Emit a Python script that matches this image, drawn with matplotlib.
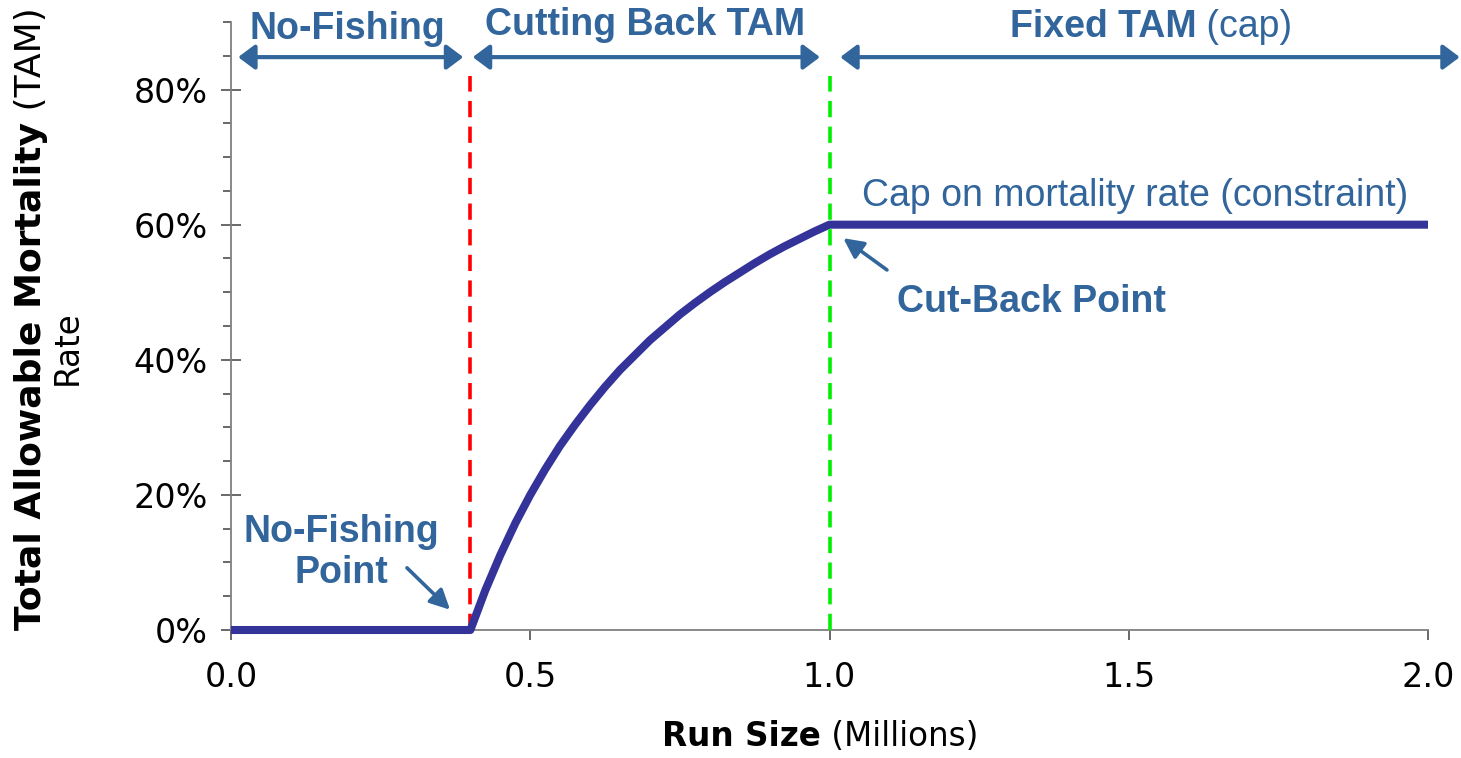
import matplotlib
matplotlib.use('Agg')
import matplotlib.pyplot as plt
from matplotlib.ticker import MultipleLocator, PercentFormatter

# run size (millions) vs total allowable mortality rate
run_size = [0.0, 0.4, 0.425, 0.45, 0.475, 0.5, 0.525, 0.55, 0.575, 0.6, 0.625, 0.65, 0.675,
            0.7, 0.725, 0.75, 0.775, 0.8, 0.825, 0.85, 0.875, 0.9, 0.925, 0.95, 0.975, 1.0, 2.0]
tam_rate = [0.0, 0.0, 0.059, 0.111, 0.158, 0.20, 0.238, 0.273, 0.304, 0.333, 0.36, 0.385, 0.407,
            0.429, 0.448, 0.467, 0.484, 0.50, 0.515, 0.529, 0.543, 0.556, 0.568, 0.579, 0.59, 0.60, 0.60]

no_fishing_point = 0.4
cut_back_point = 1.0

x_ticks = [0.0, 0.5, 1.0, 1.5, 2.0]

BLUE_TXT = '#31659B'
CURVE = '#333399'
ARIAL = 'Liberation Sans'

W, H = 1461, 758
fig = plt.figure(figsize=(W / 100, H / 100), dpi=100)
ax = fig.add_axes([231 / W, 1 - 630 / H, (1428 - 231) / W, (630 - 22) / H])

ax.plot(run_size, tam_rate, color=CURVE, lw=5.8, solid_capstyle='butt', solid_joinstyle='round',
        zorder=3, clip_on=False)
ax.plot([no_fishing_point] * 2, [0, 0.82], color='#FF0000', lw=2.6, ls=(0, (4.5, 2.6)), zorder=2, clip_on=False)
ax.plot([cut_back_point] * 2, [0, 0.82], color='#00F000', lw=2.6, ls=(0, (4.5, 2.6)), zorder=4, clip_on=False)

ax.set_xlim(0, 2.0)
ax.set_ylim(0, 0.9)
ax.set_xticks(x_ticks)
ax.set_xticklabels([f'{v:.1f}' for v in x_ticks])
ax.yaxis.set_major_locator(MultipleLocator(0.2))
ax.yaxis.set_minor_locator(MultipleLocator(0.05))
ax.yaxis.set_major_formatter(PercentFormatter(1.0, decimals=0))

for s in ['top', 'right']:
    ax.spines[s].set_visible(False)
for s in ['left', 'bottom']:
    ax.spines[s].set_color('#808080')
    ax.spines[s].set_linewidth(1.3)

ax.tick_params(axis='y', which='major', direction='inout', length=15, width=1.1,
               color='#404040', labelsize=24, pad=9)
ax.tick_params(axis='y', which='minor', direction='out', length=6, width=1.1, color='#404040')
ax.tick_params(axis='x', which='major', direction='out', length=7, width=1.1,
               color='#404040', labelsize=24, pad=15)
ax.tick_params(axis='x', which='minor', bottom=False)

# region arrows along the top
arrow_y = 0.848
for x0, x1 in [(0.012, 0.388), (0.404, 0.984), (1.018, 2.053)]:
    ax.annotate('', xy=(x1, arrow_y), xytext=(x0, arrow_y), xycoords='data', annotation_clip=False,
                arrowprops=dict(arrowstyle='<|-|>,head_length=1.0,head_width=0.75',
                                color=BLUE_TXT, lw=3.0, shrinkA=0, shrinkB=0))

ax.text(0.195, 0.89, 'No-Fishing', ha='center', va='center', fontsize=27, fontweight='bold',
        color=BLUE_TXT, family=ARIAL, clip_on=False)
ax.text(0.692, 0.895, 'Cutting Back TAM', ha='center', va='center', fontsize=27, fontweight='bold',
        color=BLUE_TXT, family=ARIAL, clip_on=False)

fig.canvas.draw()
rend = fig.canvas.get_renderer()


def two_part(x_px, y_px, bold, normal, size, color, family, rotation=0):
    # bold piece followed by normal piece, centred on (x_px, y_px) in figure pixels
    kw = dict(fontsize=size, color=color, family=family, rotation=rotation, transform=None)
    if rotation == 0:
        kw.update(ha='left', va='center')
    else:
        kw.update(ha='center', va='bottom')
    t1 = fig.text(0, 0, bold, fontweight='bold', **kw)
    t2 = fig.text(0, 0, normal, **kw)
    e1 = t1.get_window_extent(rend)
    e2 = t2.get_window_extent(rend)
    yd = H - y_px
    if rotation == 0:
        start = x_px - (e1.width + e2.width) / 2
        t1.set_position((start, yd))
        t2.set_position((start + e1.width, yd))
    else:
        start = yd - (e1.height + e2.height) / 2
        t1.set_position((x_px, start))
        t2.set_position((x_px, start + e1.height))


two_part(1151, 27, 'Fixed TAM', ' (cap)', 27, BLUE_TXT, ARIAL)
two_part(820, 737, 'Run Size', ' (Millions)', 23.5, 'black', 'DejaVu Sans')
two_part(31, 319, 'Total Allowable Mortality', ' (TAM)', 26, 'black', 'DejaVu Sans', rotation=90)
fig.text(67 / W, 1 - 348 / H, 'Rate', rotation=90, ha='center', va='center', fontsize=23.5)

ax.text(1.054, 0.642, 'Cap on mortality rate (constraint)', ha='left', va='center', fontsize=27,
        color=BLUE_TXT, family=ARIAL)
ax.text(1.113, 0.485, 'Cut-Back Point', ha='left', va='center', fontsize=27, fontweight='bold',
        color=BLUE_TXT, family=ARIAL)
ax.text(0.184, 0.115, 'No-Fishing\nPoint', ha='center', va='center', fontsize=27, fontweight='bold',
        color=BLUE_TXT, family=ARIAL, linespacing=1.2)

for tail, head in [((1.096, 0.533), (1.023, 0.580)), ((0.294, 0.092), (0.366, 0.030))]:
    ax.annotate('', xy=head, xytext=tail, xycoords='data',
                arrowprops=dict(arrowstyle='-|>,head_length=1.2,head_width=0.6',
                                color=BLUE_TXT, lw=2.6, shrinkA=0, shrinkB=0))

fig.savefig('out.png', dpi=100)
